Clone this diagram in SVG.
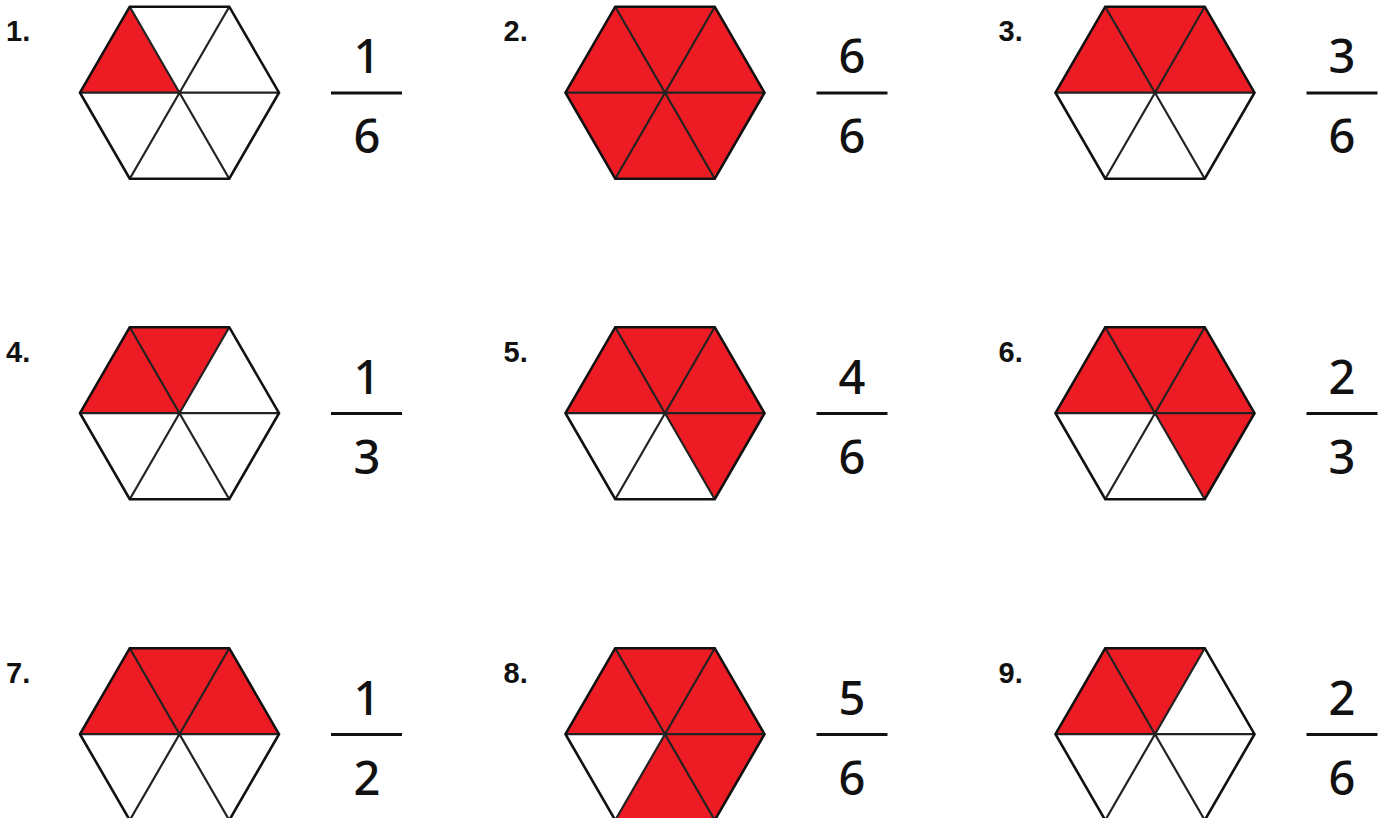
<svg xmlns="http://www.w3.org/2000/svg" xmlns:xlink="http://www.w3.org/1999/xlink" width="1386" height="818" viewBox="0 0 1386 818">
<style>
.lbl{font-family:"Liberation Sans",Arial,sans-serif;font-weight:bold;font-size:29px;fill:#111}
.num{font-family:"Noto Sans",sans-serif;font-size:47px;font-weight:500;fill:#111;text-anchor:middle}
.bar{stroke:#111;stroke-width:3.2}
.hexo{fill:none;stroke:#111;stroke-width:2.6;stroke-linejoin:miter}
.diag{fill:none;stroke:#222;stroke-width:2.2}
.red{fill:#ED1C24}
.wht{fill:#fff}
</style>
<defs>
<path id="t0" d="M-99.5,0 L-49.75,-86 L0,0 Z"/>
<path id="t1" d="M-49.75,-86 L49.75,-86 L0,0 Z"/>
<path id="t2" d="M49.75,-86 L99.5,0 L0,0 Z"/>
<path id="t3" d="M99.5,0 L49.75,86 L0,0 Z"/>
<path id="t4" d="M49.75,86 L-49.75,86 L0,0 Z"/>
<path id="t5" d="M-49.75,86 L-99.5,0 L0,0 Z"/>
<g id="lines">
<path class="diag" d="M-99.5,0 L99.5,0 M-49.75,-86 L49.75,86 M49.75,-86 L-49.75,86"/>
<path class="hexo" d="M-99.5,0 L-49.75,-86 L49.75,-86 L99.5,0 L49.75,86 L-49.75,86 Z"/>
</g>
</defs>

<g id="item1" transform="translate(0,0)">
<text class="lbl" x="6" y="41">1.</text>
<g transform="translate(179.5,92.7)">
<use href="#t0" class="red"/><use href="#t1" class="wht"/><use href="#t2" class="wht"/><use href="#t3" class="wht"/><use href="#t4" class="wht"/><use href="#t5" class="wht"/>
<use href="#lines"/>
</g>
<text class="num" x="367" y="73">1</text><line class="bar" x1="331" y1="93" x2="402" y2="93"/><text class="num" x="367" y="153">6</text>
</g>

<g id="item2" transform="translate(485.5,0)">
<text class="lbl" x="18" y="41">2.</text>
<g transform="translate(179.5,92.7)">
<use href="#t0" class="red"/><use href="#t1" class="red"/><use href="#t2" class="red"/><use href="#t3" class="red"/><use href="#t4" class="red"/><use href="#t5" class="red"/>
<use href="#lines"/>
</g>
<text class="num" x="366.5" y="73">6</text><line class="bar" x1="331" y1="93" x2="402" y2="93"/><text class="num" x="366.5" y="153">6</text>
</g>

<g id="item3" transform="translate(975.5,0)">
<text class="lbl" x="23" y="41">3.</text>
<g transform="translate(179.5,92.7)">
<use href="#t0" class="red"/><use href="#t1" class="red"/><use href="#t2" class="red"/><use href="#t3" class="wht"/><use href="#t4" class="wht"/><use href="#t5" class="wht"/>
<use href="#lines"/>
</g>
<text class="num" x="366.5" y="73">3</text><line class="bar" x1="331" y1="93" x2="402" y2="93"/><text class="num" x="366.5" y="153">6</text>
</g>

<g id="item4" transform="translate(0,320.5)">
<text class="lbl" x="6" y="41">4.</text>
<g transform="translate(179.5,92.7)">
<use href="#t0" class="red"/><use href="#t1" class="red"/><use href="#t2" class="wht"/><use href="#t3" class="wht"/><use href="#t4" class="wht"/><use href="#t5" class="wht"/>
<use href="#lines"/>
</g>
<text class="num" x="367" y="73">1</text><line class="bar" x1="331" y1="93" x2="402" y2="93"/><text class="num" x="367" y="153">3</text>
</g>

<g id="item5" transform="translate(485.5,320.5)">
<text class="lbl" x="18" y="41">5.</text>
<g transform="translate(179.5,92.7)">
<use href="#t0" class="red"/><use href="#t1" class="red"/><use href="#t2" class="red"/><use href="#t3" class="red"/><use href="#t4" class="wht"/><use href="#t5" class="wht"/>
<use href="#lines"/>
</g>
<text class="num" x="366.5" y="73">4</text><line class="bar" x1="331" y1="93" x2="402" y2="93"/><text class="num" x="366.5" y="153">6</text>
</g>

<g id="item6" transform="translate(975.5,320.5)">
<text class="lbl" x="23" y="41">6.</text>
<g transform="translate(179.5,92.7)">
<use href="#t0" class="red"/><use href="#t1" class="red"/><use href="#t2" class="red"/><use href="#t3" class="red"/><use href="#t4" class="wht"/><use href="#t5" class="wht"/>
<use href="#lines"/>
</g>
<text class="num" x="366.5" y="73">2</text><line class="bar" x1="331" y1="93" x2="402" y2="93"/><text class="num" x="366.5" y="153">3</text>
</g>

<g id="item7" transform="translate(0,641.5)">
<text class="lbl" x="6" y="41">7.</text>
<g transform="translate(179.5,92.7)">
<use href="#t0" class="red"/><use href="#t1" class="red"/><use href="#t2" class="red"/><use href="#t3" class="wht"/><use href="#t4" class="wht"/><use href="#t5" class="wht"/>
<use href="#lines"/>
</g>
<text class="num" x="367" y="73">1</text><line class="bar" x1="331" y1="93" x2="402" y2="93"/><text class="num" x="367" y="153">2</text>
</g>

<g id="item8" transform="translate(485.5,641.5)">
<text class="lbl" x="18" y="41">8.</text>
<g transform="translate(179.5,92.7)">
<use href="#t0" class="red"/><use href="#t1" class="red"/><use href="#t2" class="red"/><use href="#t3" class="red"/><use href="#t4" class="red"/><use href="#t5" class="wht"/>
<use href="#lines"/>
</g>
<text class="num" x="366.5" y="73">5</text><line class="bar" x1="331" y1="93" x2="402" y2="93"/><text class="num" x="366.5" y="153">6</text>
</g>

<g id="item9" transform="translate(975.5,641.5)">
<text class="lbl" x="23" y="41">9.</text>
<g transform="translate(179.5,92.7)">
<use href="#t0" class="red"/><use href="#t1" class="red"/><use href="#t2" class="wht"/><use href="#t3" class="wht"/><use href="#t4" class="wht"/><use href="#t5" class="wht"/>
<use href="#lines"/>
</g>
<text class="num" x="366.5" y="73">2</text><line class="bar" x1="331" y1="93" x2="402" y2="93"/><text class="num" x="366.5" y="153">6</text>
</g>
</svg>
